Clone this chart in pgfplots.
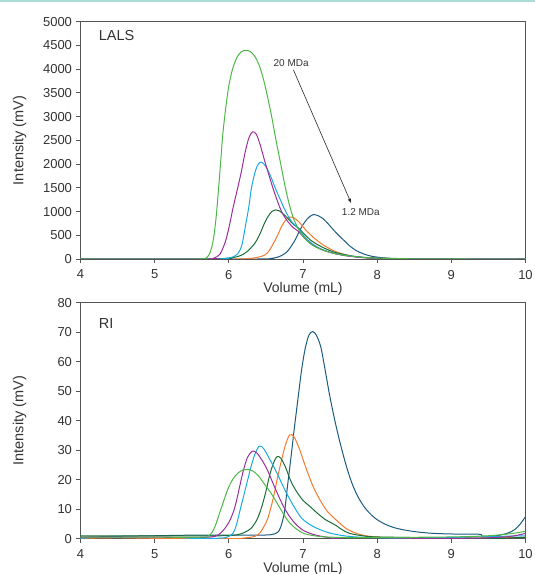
\documentclass[border=0pt]{standalone}
\usepackage{pgfplots}
\pgfplotsset{compat=1.18}
\usepackage{fontspec}
\setmainfont{Liberation Sans}
\definecolor{cLG}{HTML}{4DB848}
\definecolor{cMG}{HTML}{9B2F9B}
\definecolor{cCY}{HTML}{1BA9E1}
\definecolor{cDG}{HTML}{1A6E36}
\definecolor{cOR}{HTML}{F47A30}
\definecolor{cDB}{HTML}{1C5A80}
\definecolor{txt}{HTML}{333333}
\definecolor{axc}{HTML}{555555}
\definecolor{topline}{HTML}{AADDD8}
\pgfplotsset{
  chrom/.style={
    scale only axis, width=445pt,
    xmin=4, xmax=10, xtick={4,5,...,10},
    axis line style={axc, line width=0.8pt},
    tick style={axc, line width=0.8pt},
    tick align=outside, major tick length=4pt,
    xtick pos=bottom, ytick pos=left,
    /pgf/number format/assume math mode=true,
    /pgf/number format/1000 sep={},
    tick label style={font=\fontsize{13}{15}\selectfont, text=txt},
    xticklabel style={yshift=-3.5pt},
    yticklabel style={xshift=-1pt},
    xlabel={Volume (mL)},
    ylabel={Intensity (mV)},
    every axis x label/.style={at={(axis description cs:0.5,0)}, anchor=center, yshift=-30pt, font=\fontsize{14}{16}\selectfont, text=txt},
    every axis y label/.style={at={(axis description cs:-0.137,0.5)}, rotate=90, anchor=center, font=\fontsize{14.5}{16}\selectfont, text=txt},
    every axis plot/.append style={line width=1pt, smooth, tension=0.5, no marks},
  }
}
\begin{document}
\begin{tikzpicture}
\path[use as bounding box] (-80.5pt,-35.3pt) rectangle (454.5pt,538.7pt);
\fill[topline] (-80.5pt,536.7pt) rectangle (454.5pt,538.7pt);
% ---------- LALS ----------
\begin{axis}[chrom, at={(0pt,279.7pt)}, height=237.3pt, ymin=0, ymax=5000, ytick={0,500,...,5000}]
\addplot[cDB] coordinates {(4,0)(6.4,0)(6.55,8)(6.65,35)(6.72,80)(6.79,160)(6.85,290)(6.9,420)(6.96,612)(7.02,770)(7.08,880)(7.14,935)(7.2,915)(7.27,850)(7.34,740)(7.41,615)(7.48,500)(7.56,380)(7.63,275)(7.72,175)(7.82,105)(7.92,60)(8.05,30)(8.2,14)(8.5,4)(9,0)(10,0)};
\addplot[cOR] coordinates {(4,0)(6.1,0)(6.25,8)(6.35,25)(6.45,60)(6.52,125)(6.58,270)(6.65,475)(6.71,680)(6.76,810)(6.82,880)(6.88,865)(6.94,790)(7.0,680)(7.05,590)(7.15,440)(7.25,320)(7.35,225)(7.45,150)(7.58,88)(7.7,48)(7.85,22)(8.0,10)(8.3,3)(8.7,0)(10,0)};
\addplot[cDG] coordinates {(4,0)(5.85,0)(6.0,15)(6.1,45)(6.17,80)(6.25,160)(6.35,330)(6.42,530)(6.48,752)(6.53,900)(6.58,1000)(6.63,1034)(6.68,1015)(6.74,940)(6.8,850)(6.87,730)(6.94,650)(7.02,520)(7.1,400)(7.2,300)(7.3,220)(7.41,150)(7.55,95)(7.7,55)(7.9,25)(8.2,8)(8.6,2)(9,0)(10,0)};
\addplot[cCY] coordinates {(4,0)(5.85,0)(5.95,15)(6.05,40)(6.12,110)(6.17,260)(6.2,480)(6.23,750)(6.27,1100)(6.3,1450)(6.34,1750)(6.38,1950)(6.42,2035)(6.46,2020)(6.51,1920)(6.57,1720)(6.63,1480)(6.7,1230)(6.77,990)(6.85,780)(6.94,640)(7.02,470)(7.1,350)(7.19,255)(7.3,175)(7.41,125)(7.55,80)(7.7,48)(7.9,22)(8.2,8)(8.6,2)(9,0)(10,0)};
\addplot[cMG] coordinates {(4,0)(5.72,0)(5.8,20)(5.88,100)(5.95,350)(6.0,650)(6.06,1100)(6.12,1500)(6.17,1850)(6.22,2250)(6.27,2550)(6.32,2680)(6.37,2630)(6.42,2420)(6.49,2030)(6.55,1720)(6.6,1470)(6.66,1200)(6.72,970)(6.8,780)(6.87,660)(6.94,580)(7.02,440)(7.1,330)(7.19,240)(7.3,170)(7.41,120)(7.55,75)(7.7,45)(7.9,22)(8.2,8)(8.6,2)(9,0)(10,0)};
\addplot[cLG] coordinates {(4,0)(5.6,0)(5.68,10)(5.73,80)(5.77,250)(5.8,500)(5.83,900)(5.86,1450)(5.89,2050)(5.92,2650)(5.96,3200)(6.0,3650)(6.05,4000)(6.11,4250)(6.17,4370)(6.23,4395)(6.29,4370)(6.35,4270)(6.41,4080)(6.47,3770)(6.53,3360)(6.58,2980)(6.64,2470)(6.7,2000)(6.76,1520)(6.82,1120)(6.88,820)(6.94,630)(7.0,480)(7.1,320)(7.19,240)(7.3,170)(7.41,120)(7.55,80)(7.7,50)(7.9,25)(8.2,10)(8.6,3)(9.2,0)(10,0)};
\node[anchor=west, font=\fontsize{14.5}{16}\selectfont, text=txt] at (axis cs:4.2,4705) {LALS};
\node[font=\fontsize{10}{12}\selectfont, text=txt] at (axis cs:6.84,4130) {20 MDa};
\node[font=\fontsize{10}{12}\selectfont, text=txt] at (axis cs:7.78,985) {1.2 MDa};
\draw[-{latex}, line width=0.6pt, black!85] (axis cs:6.87,3988) -- (axis cs:7.65,1175);
\end{axis}
% ---------- RI ----------
\begin{axis}[chrom, at={(0pt,0pt)}, height=236pt, ymin=0, ymax=80, ytick={0,10,...,80}]
\addplot[cDB] coordinates {(4,0.5)(4.5,0.8)(5,1.0)(5.5,1.2)(6,1.2)(6.4,1.2)(6.58,1.4)(6.66,2.2)(6.7,4)(6.75,9)(6.79,17.6)(6.84,28)(6.88,36.8)(6.93,47)(6.98,57)(7.03,64.5)(7.08,69)(7.13,70.2)(7.18,69)(7.24,65)(7.3,57)(7.36,48.5)(7.43,40)(7.5,32.5)(7.58,25)(7.66,18.8)(7.75,13.8)(7.85,10)(7.97,7)(8.1,5)(8.25,3.6)(8.45,2.6)(8.7,1.9)(9.0,1.6)(9.38,1.5)(9.42,0.8)(9.6,1.0)(9.75,1.8)(9.85,3)(9.93,5)(10,7.5)};
\addplot[cOR] coordinates {(4,0)(4.5,-0.2)(5,0)(6,0)(6.2,0.2)(6.35,0.8)(6.42,2)(6.47,4)(6.52,6.5)(6.57,10.8)(6.61,15)(6.65,19.9)(6.7,25.5)(6.76,31.5)(6.82,35.2)(6.88,34.5)(6.95,30.5)(7.05,23.3)(7.14,17.5)(7.23,13.1)(7.33,9.2)(7.45,6.3)(7.58,3.5)(7.72,1.8)(7.9,0.8)(8.2,0.3)(9,0.2)(10,0.5)};
\addplot[cDG] coordinates {(4,1)(5,1)(5.9,1)(6.1,1.3)(6.2,2)(6.3,3.5)(6.38,6.5)(6.44,10.5)(6.5,16)(6.55,21.5)(6.6,25.5)(6.65,27.8)(6.7,27.3)(6.76,24.5)(6.83,19.9)(6.9,16.5)(7.0,13)(7.1,10.8)(7.2,8.5)(7.3,6.5)(7.38,5.4)(7.45,4.4)(7.53,3)(7.63,1.8)(7.8,1)(8.0,0.6)(9,0.2)(9.5,0)(10,0.5)};
\addplot[cCY] coordinates {(4,0)(4.3,-0.5)(4.7,-1)(5.0,-0.8)(5.5,0)(5.9,0.2)(6.0,0.8)(6.06,2)(6.1,4.5)(6.15,9.5)(6.2,14.5)(6.25,19.5)(6.3,24.5)(6.35,28.5)(6.41,31.4)(6.47,30.5)(6.55,27)(6.65,22.2)(6.76,16.3)(6.88,10.8)(6.98,7)(7.08,5)(7.19,3.5)(7.35,2)(7.55,1)(7.8,0.5)(8.5,0.2)(10,1)};
\addplot[cMG] coordinates {(4,0.5)(5,0.5)(5.7,0.5)(5.85,1.2)(5.93,3)(6.0,5.5)(6.06,9)(6.1,12.5)(6.14,17)(6.19,22.5)(6.25,27.5)(6.32,29.7)(6.38,29)(6.45,26.5)(6.52,23.3)(6.6,18.5)(6.67,14.5)(6.74,10.8)(6.82,7.5)(6.9,5)(7.0,2.9)(7.12,1.6)(7.25,0.8)(7.4,0.2)(7.55,-0.3)(7.7,-0.4)(8,-0.3)(8.5,0)(9,0.1)(9.5,0.3)(9.8,0.8)(10,1.8)};
\addplot[cLG] coordinates {(4,0.5)(5,0.5)(5.65,0.5)(5.72,0.8)(5.77,2)(5.82,4.5)(5.86,7.5)(5.92,12)(5.99,17)(6.05,20)(6.12,22.2)(6.19,23.3)(6.25,23.5)(6.32,23)(6.4,21.3)(6.48,18.5)(6.57,15.4)(6.68,10.8)(6.79,6.3)(6.9,3.5)(7.01,1.8)(7.15,1)(7.3,0.6)(7.6,0.4)(8,0.4)(9,0.6)(9.5,1.0)(9.8,1.7)(10,2.5)};
\node[anchor=west, font=\fontsize{14.5}{16}\selectfont, text=txt] at (axis cs:4.2,73) {RI};
\end{axis}
\end{tikzpicture}
\end{document}
